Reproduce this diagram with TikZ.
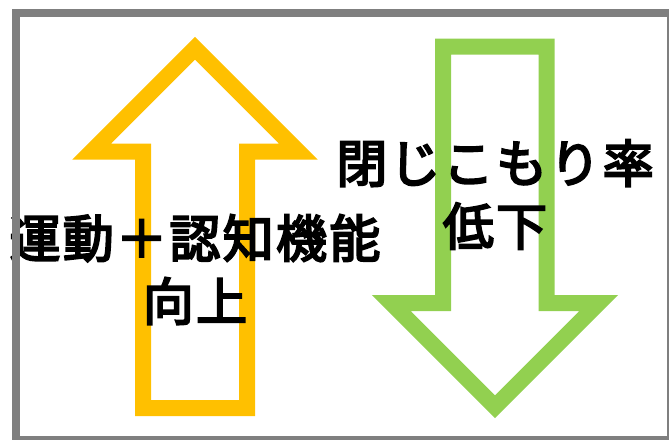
\documentclass[tikz,border=0pt]{standalone}
\usepackage{fontspec}
\newfontfamily\cjk[LetterSpace=4.5, FakeBold=4]{Noto Sans CJK JP}
\definecolor{arrowyellow}{HTML}{FFC000}
\definecolor{arrowgreen}{HTML}{92D050}
\definecolor{framegray}{HTML}{7F7F7F}
\tikzset{
  bigarrow/.style={line width=16pt, line join=miter, miter limit=10},
  label/.style={align=center, inner sep=0pt, font=\cjk\fontsize{51pt}{63pt}\selectfont},
}
\begin{document}
\begin{tikzpicture}[x=1pt,y=-1pt]
\useasboundingbox (0,0) rectangle (669,439);
\fill[white] (0,0) rectangle (669,439);
% yellow up arrow
\draw[bigarrow, arrowyellow] (195,48.3) -- (298.2,151.5) -- (247,151.5) -- (247,408) -- (143,408) -- (143,151.5) -- (91.8,151.5) -- cycle;
% green down arrow
\draw[bigarrow, arrowgreen] (443,46.5) -- (546.5,46.5) -- (546.5,303) -- (598.7,303) -- (495,406.7) -- (391.3,303) -- (443,303) -- cycle;
% labels
\node[label] (up) at (195,269.5) {運動＋認知機能\\向上};
\node[label] (down) at (495,194.5) {閉じこもり率\\低下};
% frame
\draw[framegray, line width=8pt] (16,13) rectangle (671,440);
\end{tikzpicture}
\end{document}
